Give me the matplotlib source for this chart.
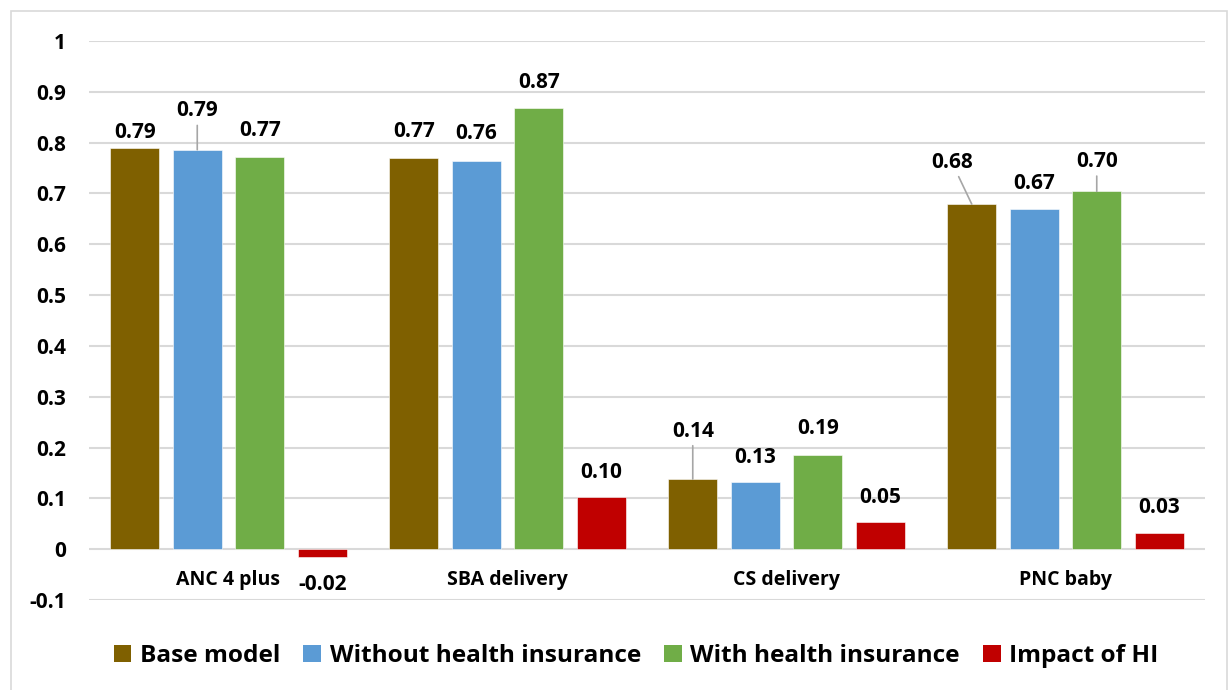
import matplotlib
matplotlib.use("Agg")
import matplotlib.pyplot as plt
from matplotlib.patches import Rectangle, Patch
import numpy as np

plt.rcParams['font.family'] = ['Open Sans', 'DejaVu Sans']
plt.rcParams['font.weight'] = 'bold'

categories = ["ANC 4 plus", "SBA delivery", "CS delivery", "PNC baby"]
series_names = ["Base model", "Without health insurance", "With health insurance", "Impact of HI"]
base_model = [0.789, 0.770, 0.138, 0.679]
without_hi = [0.786, 0.764, 0.132, 0.669]
with_hi = [0.772, 0.868, 0.186, 0.704]
impact_hi = [-0.016, 0.102, 0.053, 0.032]
y_ticks = [-0.1, 0, 0.1, 0.2, 0.3, 0.4, 0.5, 0.6, 0.7, 0.8, 0.9, 1]
y_tick_labels = ["-0.1", "0", "0.1", "0.2", "0.3", "0.4", "0.5", "0.6", "0.7", "0.8", "0.9", "1"]

colors = ["#7f6000", "#5b9bd5", "#70ad47", "#c00000"]
series = [base_model, without_hi, with_hi, impact_hi]

# label offsets in pixels (dx, dy from bar end), leader line flag
label_style = {
    (0, 0): (0, 16, False), (0, 1): (0, 39, True), (0, 2): (0, 26, False), (0, 3): (0, -27, False),
    (1, 0): (0, 26, False), (1, 1): (0, 27, False), (1, 2): (0, 26, False), (1, 3): (0, 25, False),
    (2, 0): (0, 48, True), (2, 1): (0, 25, False), (2, 2): (0, 26, False), (2, 3): (0, 25, False),
    (3, 0): (-20, 42, True), (3, 1): (0, 26, False), (3, 2): (0, 30, True), (3, 3): (0, 25, False),
}

W, H = 1230, 690
fig = plt.figure(figsize=(W / 100, H / 100), dpi=100)
ax = fig.add_axes([89 / W, 1 - 600 / H, (1205 - 89) / W, (600 - 41) / H])

x = np.arange(len(categories))
bw = 0.175
step = 0.224
offs = (np.arange(4) - 1.5) * step
px2pt = 0.72

for j, (vals, col, name) in enumerate(zip(series, colors, series_names)):
    ax.bar(x + offs[j], vals, width=bw, color=col, label=name, zorder=3,
           edgecolor='white', linewidth=0.4)
    for i, v in enumerate(vals):
        dx, dy, leader = label_style[(i, j)]
        kw = {}
        if leader:
            kw['arrowprops'] = dict(arrowstyle='-', color='#a6a6a6', lw=1.2,
                                    shrinkA=1, shrinkB=0)
        ax.annotate(f"{v:.2f}", xy=(x[i] + offs[j], v),
                    xytext=(dx * px2pt, dy * px2pt), textcoords='offset points',
                    ha='center', va='center', fontsize=15, fontweight='bold',
                    color='black', zorder=5, **kw)

for i, c in enumerate(categories):
    ax.annotate(c, xy=(x[i], 0), xytext=(0, -31 * px2pt), textcoords='offset points',
                ha='center', va='center', fontsize=14, fontweight='bold')

ax.set_xlim(-0.5, 3.5)
ax.set_ylim(-0.1, 1.0)
ax.set_yticks(y_ticks)
ax.set_yticklabels(y_tick_labels, fontsize=15, fontweight='bold')
ax.set_xticks([])
ax.tick_params(axis='y', length=0, pad=16.5)
for s in ax.spines.values():
    s.set_visible(False)
ax.grid(axis='y', color='#d9d9d9', linewidth=1.5, zorder=0)
ax.set_axisbelow(True)

handles = [Patch(facecolor=c, edgecolor='none') for c in colors]
fig.legend(handles, series_names, loc='center', bbox_to_anchor=(636 / W, 1 - 656 / H),
           ncol=4, frameon=False, handlelength=0.72, handleheight=0.72,
           handletextpad=0.35, columnspacing=0.95,
           prop={'family': ['Open Sans', 'DejaVu Sans'], 'weight': 'bold', 'size': 17.6})

fig.patches.append(Rectangle((11 / W, -0.01), (1227 - 11) / W, 1 - 11 / H + 0.01,
                             transform=fig.transFigure, fill=False,
                             edgecolor='#d9d9d9', linewidth=1.2))

fig.savefig("out.png", dpi=100)
